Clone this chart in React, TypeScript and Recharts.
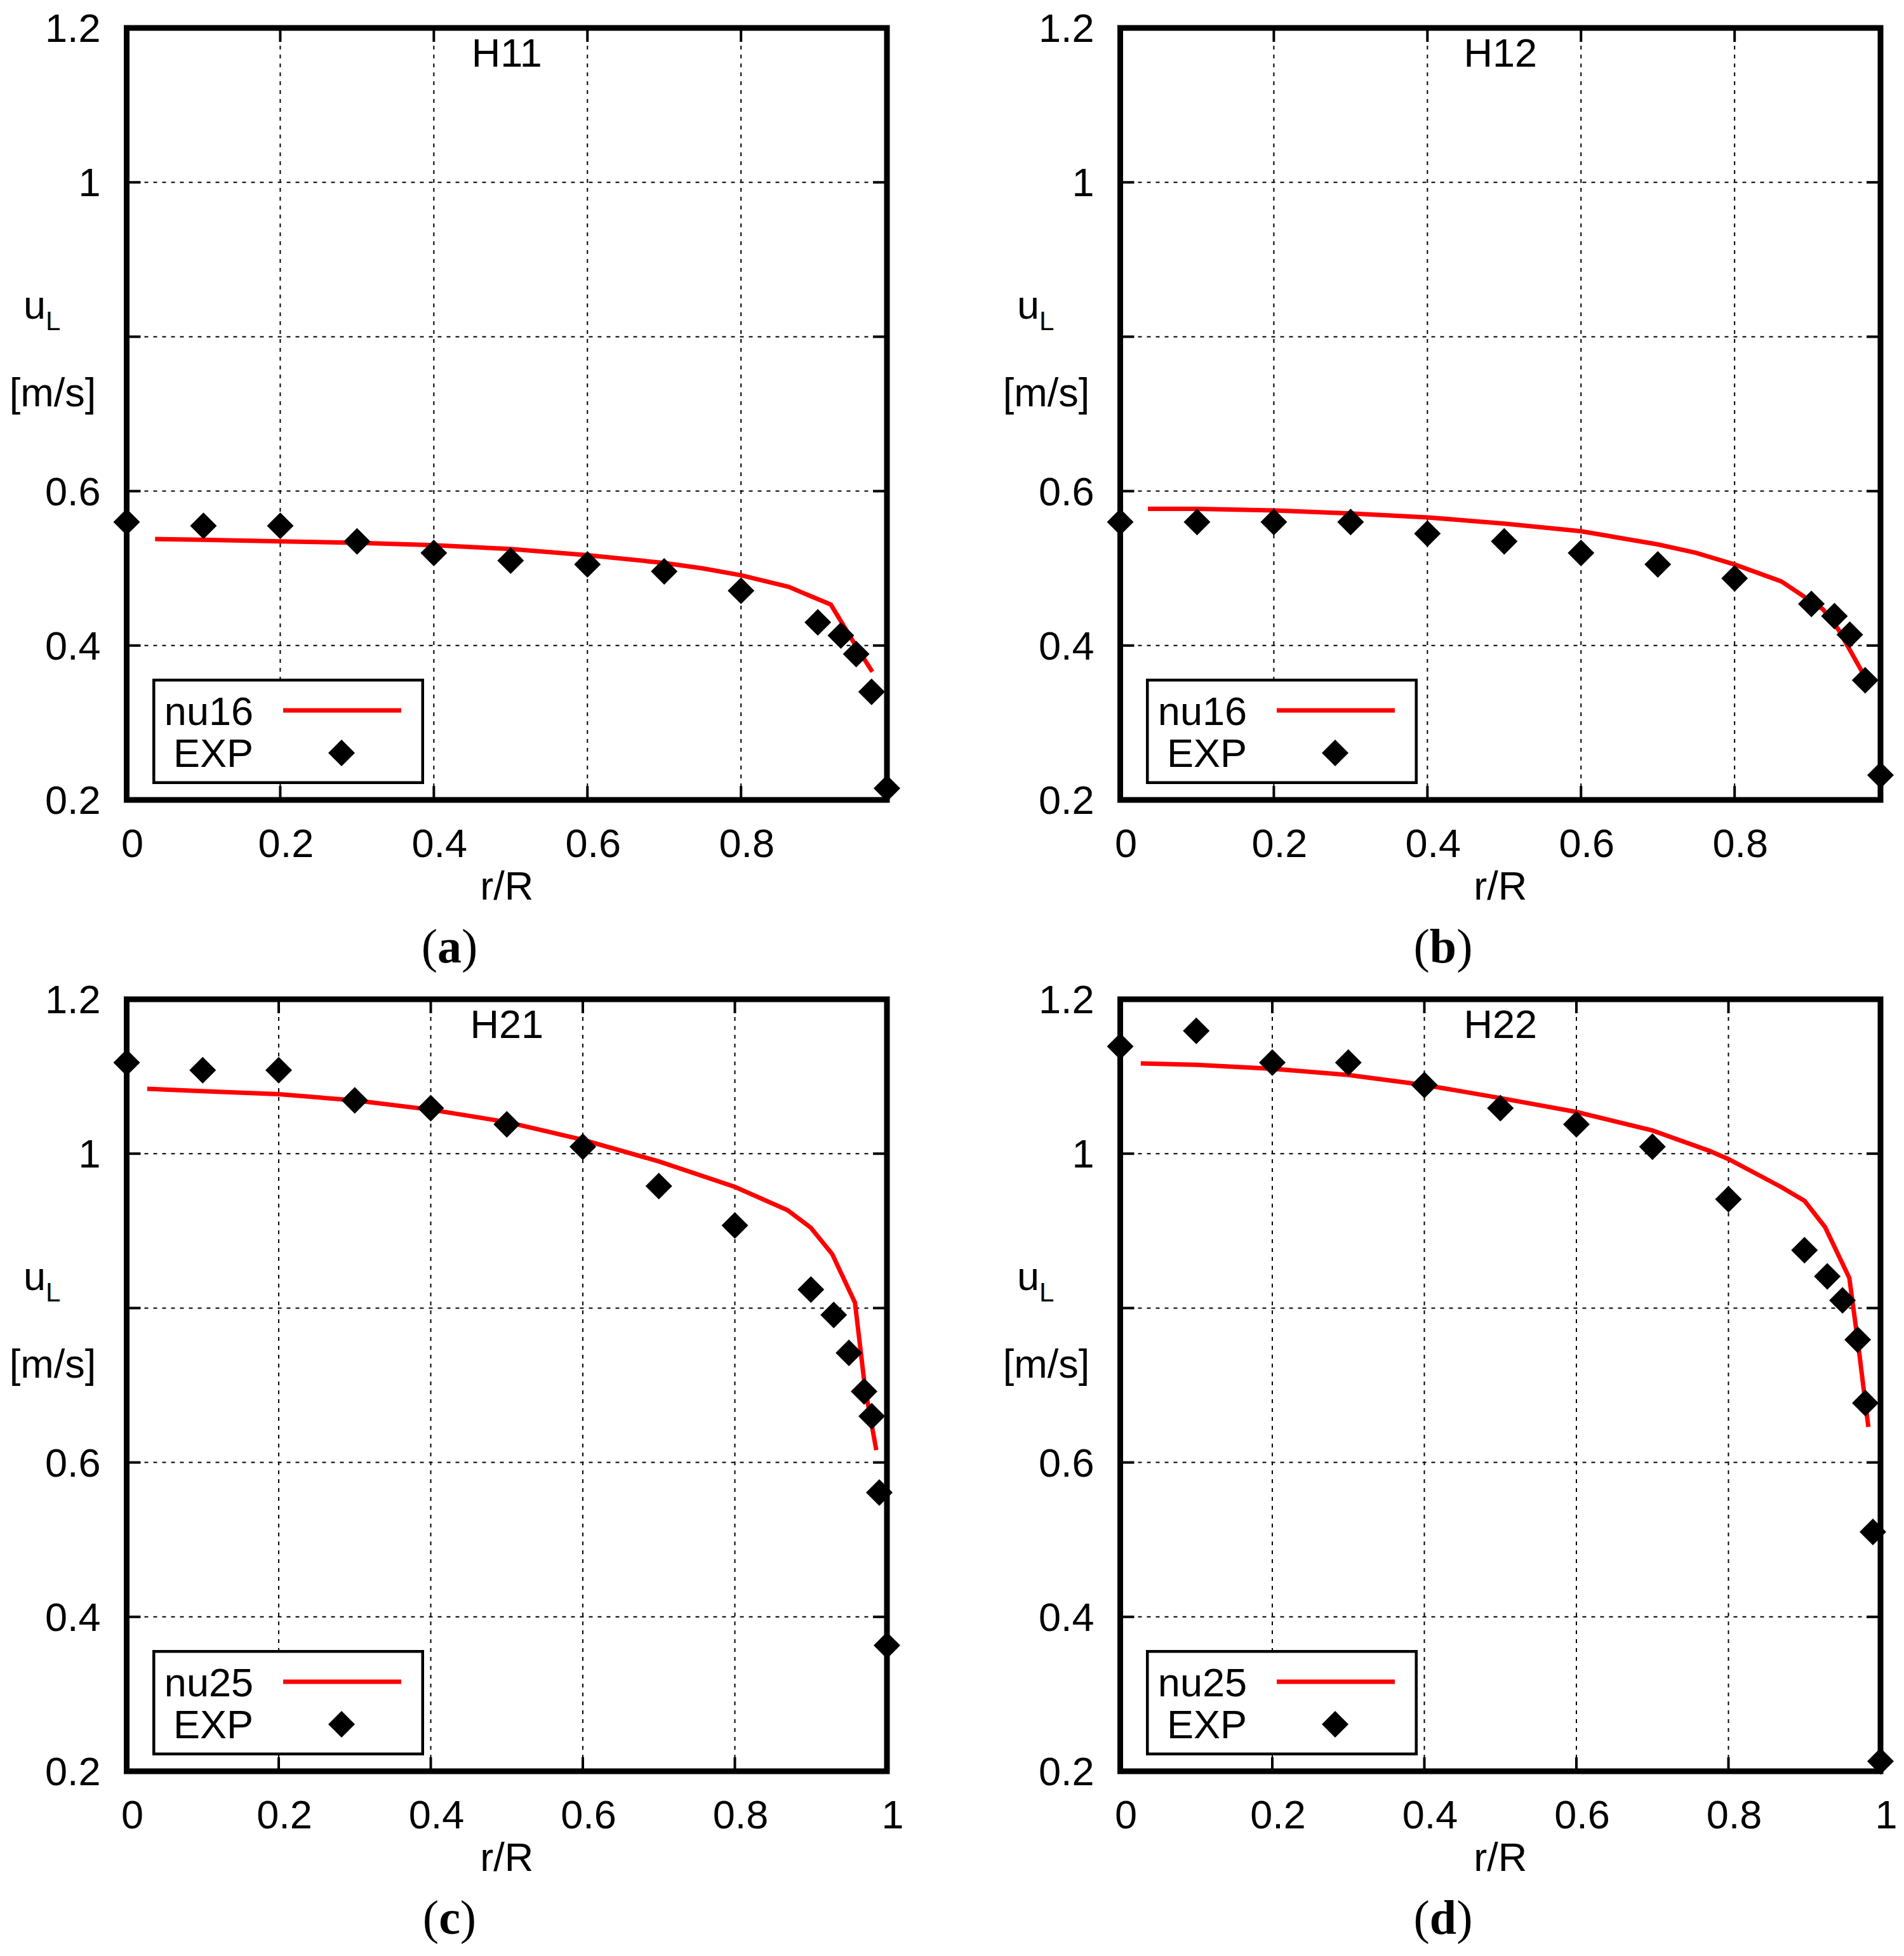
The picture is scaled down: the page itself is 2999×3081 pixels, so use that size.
import React from "react";
import {
  CartesianGrid,
  ComposedChart,
  Legend,
  Line,
  ReferenceArea,
  Scatter,
  XAxis,
  YAxis,
} from "recharts";

// experimental radial positions
const xExpTop = [0, 0.1, 0.2, 0.3, 0.4, 0.5, 0.6, 0.7, 0.8, 0.9, 0.93, 0.95, 0.97, 0.99];
const xExpBottom = [0, 0.1, 0.2, 0.3, 0.4, 0.5, 0.6, 0.7, 0.8, 0.9, 0.93, 0.95, 0.97, 0.98, 0.99, 1.0];

const expH11 = [0.56, 0.555, 0.555, 0.535, 0.52, 0.51, 0.505, 0.496, 0.471, 0.43, 0.413, 0.389, 0.34, 0.215];
const expH12 = [0.56, 0.56, 0.56, 0.56, 0.545, 0.535, 0.52, 0.505, 0.487, 0.454, 0.438, 0.414, 0.355, 0.232];
const expH21 = [1.118, 1.108, 1.108, 1.069, 1.059, 1.038, 1.009, 0.958, 0.907, 0.824, 0.791, 0.742, 0.692, 0.66, 0.561, 0.363];
const expH22 = [1.139, 1.159, 1.118, 1.118, 1.089, 1.059, 1.038, 1.009, 0.941, 0.875, 0.841, 0.81, 0.759, 0.677, 0.51, 0.213];

// simulation curves
const simXH11 = [0.037, 0.1, 0.2, 0.3, 0.4, 0.5, 0.6, 0.7, 0.75, 0.8, 0.862, 0.917, 0.948, 0.971];
const simH11 = [0.538, 0.537, 0.535, 0.533, 0.53, 0.525, 0.517, 0.507, 0.5, 0.491, 0.476, 0.453, 0.402, 0.366];
const simXH12 = [0.036, 0.1, 0.2, 0.3, 0.4, 0.5, 0.6, 0.7, 0.75, 0.8, 0.861, 0.915, 0.935, 0.966];
const simH12 = [0.577, 0.577, 0.575, 0.571, 0.566, 0.558, 0.548, 0.531, 0.52, 0.505, 0.483, 0.447, 0.421, 0.366];
const simXH21 = [0.027, 0.1, 0.2, 0.3, 0.4, 0.5, 0.6, 0.7, 0.8, 0.869, 0.9, 0.928, 0.958, 0.971, 0.986];
const simH21 = [1.084, 1.081, 1.077, 1.069, 1.057, 1.041, 1.018, 0.99, 0.957, 0.927, 0.904, 0.87, 0.807, 0.698, 0.616];
const simXH22 = [0.027, 0.1, 0.2, 0.3, 0.4, 0.5, 0.6, 0.7, 0.774, 0.8, 0.869, 0.9, 0.927, 0.959, 0.97, 0.984];
const simH22 = [1.117, 1.115, 1.11, 1.102, 1.089, 1.072, 1.054, 1.03, 1.004, 0.993, 0.957, 0.939, 0.905, 0.839, 0.758, 0.646];

const xTicksTop = [0, 0.2, 0.4, 0.6, 0.8];
const xTicksBottom = [0, 0.2, 0.4, 0.6, 0.8, 1];
const yTicks = [0.2, 0.4, 0.6, 0.8, 1, 1.2];

const FONT = "'Liberation Sans', Arial, Helvetica, sans-serif";
const SERIF = "'Liberation Serif', 'Times New Roman', serif";
const PLOT_W = 1197.5;
const PLOT_H = 1216;
const M_TOP = 44;
const M_LEFT = 39.5;
const Y_AXIS_W = 160;
const PL = M_LEFT + Y_AXIS_W;
const CHART_W = 1430;
const CHART_H = 1400;
const TICK = 22;

const pts = (xs: number[], vs: number[]) => xs.map((x, i) => ({ x, v: vs[i] }));

const XTick = (props: any) => {
  const { x, y, payload } = props;
  return (
    <g>
      <line x1={x} y1={y} x2={x} y2={y - TICK} stroke="#000" strokeWidth={4} />
      <line x1={x} y1={y - PLOT_H} x2={x} y2={y - PLOT_H + TICK} stroke="#000" strokeWidth={4} />
      <text x={x + 9} y={y + 90} textAnchor="middle" fontSize={63} fontFamily={FONT} fill="#000">
        {String(payload.value)}
      </text>
    </g>
  );
};

const YTick = (props: any) => {
  const { x, y, payload } = props;
  const v = payload.value;
  return (
    <g>
      <line x1={x} y1={y} x2={x + TICK} y2={y} stroke="#000" strokeWidth={4} />
      <line x1={x + PLOT_W} y1={y} x2={x + PLOT_W - TICK} y2={y} stroke="#000" strokeWidth={4} />
      {v !== 0.8 && (
        <text x={x - 41} y={y + 22} textAnchor="end" fontSize={63} fontFamily={FONT} fill="#000">
          {String(v)}
        </text>
      )}
    </g>
  );
};

const Diamond = (props: any) => {
  const { cx, cy } = props;
  const r = 21;
  return <polygon points={`${cx},${cy - r} ${cx + r},${cy} ${cx},${cy + r} ${cx - r},${cy}`} fill="#000" />;
};

const LegendBox = ({ name }: { name: string }) => (
  <svg width={428} height={166} style={{ display: "block" }}>
    <rect x={2.25} y={2.25} width={423.5} height={161.5} fill="#fff" stroke="#000" strokeWidth={4.5} />
    <text x={159} y={73} textAnchor="end" fontSize={63} fontFamily={FONT} fill="#000">
      {name}
    </text>
    <line x1={206} y1={50} x2={392} y2={50} stroke="#ff0000" strokeWidth={7} />
    <text x={159} y={139} textAnchor="end" fontSize={63} fontFamily={FONT} fill="#000">
      EXP
    </text>
    <polygon points="298,96 319,117 298,138 277,117" fill="#000" />
  </svg>
);

type PanelProps = {
  left: number;
  top: number;
  title: string;
  caption: string;
  simName: string;
  xMax: number;
  xTicks: number[];
  exp: { x: number; v: number }[];
  sim: { x: number; v: number }[];
};

function Panel({ left, top, title, caption, simName, xMax, xTicks, exp, sim }: PanelProps) {
  const cx = PL + PLOT_W / 2;
  return (
    <div style={{ position: "absolute", left, top, width: CHART_W, height: CHART_H }}>
      <ComposedChart
        width={CHART_W}
        height={CHART_H}
        margin={{ top: M_TOP, left: M_LEFT, right: CHART_W - PL - PLOT_W, bottom: 10 }}
      >
        <CartesianGrid stroke="#000" strokeWidth={2} strokeDasharray="6 8" />
        <XAxis
          dataKey="x"
          type="number"
          domain={[0, xMax]}
          ticks={xTicks}
          axisLine={false}
          tickLine={false}
          tickSize={0}
          tickMargin={0}
          height={130}
          tick={<XTick />}
        />
        <YAxis
          dataKey="v"
          type="number"
          domain={[0.2, 1.2]}
          ticks={yTicks}
          axisLine={false}
          tickLine={false}
          tickSize={0}
          tickMargin={0}
          width={Y_AXIS_W}
          tick={<YTick />}
        />
        <ReferenceArea
          x1={0}
          x2={xMax}
          y1={0.2}
          y2={1.2}
          fill="none"
          fillOpacity={0}
          stroke="#000"
          strokeWidth={9}
          ifOverflow="visible"
        />
        <Line
          data={sim}
          dataKey="v"
          type="linear"
          stroke="#ff0000"
          strokeWidth={7}
          dot={false}
          isAnimationActive={false}
        />
        <Scatter data={exp} dataKey="v" shape={<Diamond />} isAnimationActive={false} />
        <Legend
          layout="vertical"
          align="center"
          verticalAlign="middle"
          wrapperStyle={{ position: "absolute", left: PL + 40, top: M_TOP + PLOT_H - 191, width: 428, height: 166 }}
          content={() => <LegendBox name={simName} />}
        />
      </ComposedChart>
      <svg
        width={CHART_W}
        height={CHART_H + 200}
        style={{ position: "absolute", left: 0, top: 0, pointerEvents: "none", overflow: "visible" }}
      >
        <text x={cx} y={105} textAnchor="middle" fontSize={63} fontFamily={FONT}>
          {title}
        </text>
        <text x={37} y={502} fontSize={63} fontFamily={FONT}>
          u
          <tspan fontSize={42} dy={18}>
            L
          </tspan>
        </text>
        <text x={83} y={640} textAnchor="middle" fontSize={63} fontFamily={FONT}>
          [m/s]
        </text>
        <text x={cx} y={1417} textAnchor="middle" fontSize={63} fontFamily={FONT}>
          r/R
        </text>
        <text x={708} y={1516} textAnchor="middle" fontSize={76} fontFamily={SERIF}>
          (<tspan fontWeight="bold">{caption}</tspan>)
        </text>
      </svg>
    </div>
  );
}

export default function App() {
  return (
    <div style={{ position: "absolute", left: 0, top: 0, width: 2999, height: 3081, background: "#fff", overflow: "hidden" }}>
      <Panel
        left={0}
        top={0}
        title="H11"
        caption="a"
        simName="nu16"
        xMax={0.99}
        xTicks={xTicksTop}
        exp={pts(xExpTop, expH11)}
        sim={pts(simXH11, simH11)}
      />
      <Panel
        left={1565.2}
        top={0}
        title="H12"
        caption="b"
        simName="nu16"
        xMax={0.99}
        xTicks={xTicksTop}
        exp={pts(xExpTop, expH12)}
        sim={pts(simXH12, simH12)}
      />
      <Panel
        left={0}
        top={1530}
        title="H21"
        caption="c"
        simName="nu25"
        xMax={1}
        xTicks={xTicksBottom}
        exp={pts(xExpBottom, expH21)}
        sim={pts(simXH21, simH21)}
      />
      <Panel
        left={1565.2}
        top={1530}
        title="H22"
        caption="d"
        simName="nu25"
        xMax={1}
        xTicks={xTicksBottom}
        exp={pts(xExpBottom, expH22)}
        sim={pts(simXH22, simH22)}
      />
    </div>
  );
}
